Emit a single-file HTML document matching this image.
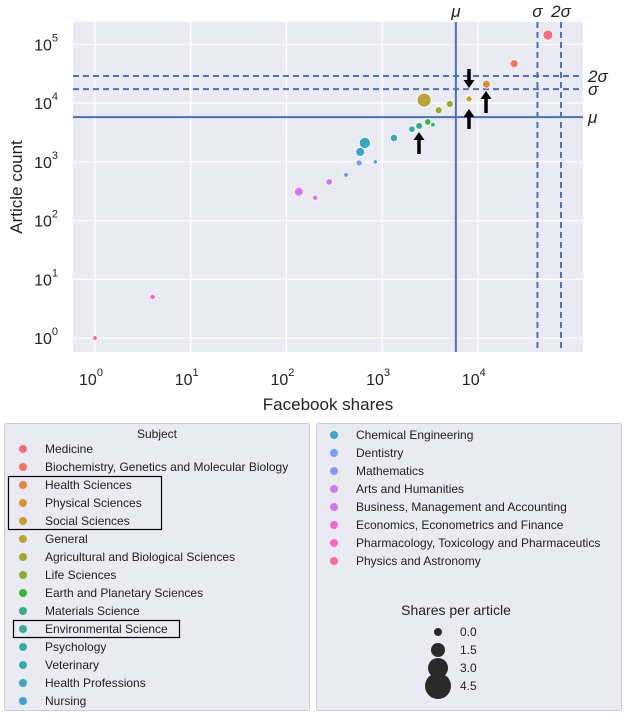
<!DOCTYPE html>
<html><head><meta charset="utf-8"><style>
body{margin:0;background:#fff;font-family:"Liberation Sans",sans-serif;}
svg{display:block}
</style></head><body>
<svg id="chart" width="626" height="716" font-family="Liberation Sans, sans-serif">
<rect x="73" y="22" width="510" height="330" fill="#eaeaf2"/>
<g id="grid"></g><g id="refs"></g><g id="pts"></g><g id="arrows"></g><g id="ticks"></g>
<text x="328" y="410" font-size="17" text-anchor="middle" fill="#222">Facebook shares</text>
<text transform="translate(22,187) rotate(-90)" font-size="17" text-anchor="middle" fill="#222">Article count</text>
<g>
<rect x="4.5" y="423.5" width="305" height="287" fill="#eaeaf2" stroke="#ccc" rx="2"/>
<text x="157" y="438" font-size="12" text-anchor="middle" fill="#222">Subject</text>
<g id="legL"></g>
<rect x="8.5" y="476.5" width="153" height="53" fill="none" stroke="#000" stroke-width="1.2"/>
<rect x="13.5" y="620.5" width="166" height="17" fill="none" stroke="#000" stroke-width="1.2"/>
</g>
<g>
<rect x="316.5" y="423.5" width="305" height="287" fill="#eaeaf2" stroke="#ccc" rx="2"/>
<g id="legR"></g>
</g>
<g>
<text x="456" y="615" font-size="14" text-anchor="middle" fill="#222">Shares per article</text>
<g id="sizeLeg"></g>
</g>
</svg>
<script>
const subjects=["Medicine","Biochemistry, Genetics and Molecular Biology","Health Sciences","Physical Sciences","Social Sciences","General","Agricultural and Biological Sciences","Life Sciences","Earth and Planetary Sciences","Materials Science","Environmental Science","Psychology","Veterinary","Health Professions","Nursing","Chemical Engineering","Dentistry","Mathematics","Arts and Humanities","Business, Management and Accounting","Economics, Econometrics and Finance","Pharmacology, Toxicology and Pharmaceutics","Physics and Astronomy"];
const shares=[54000,24000,12300,8100,8100,2750,3900,5100,3000,3400,2440,2050,1330,660,590,850,575,420,280,135,200,4,1];
const articles=[145000,47000,21000,11800,11800,11300,7600,9700,4800,4300,4100,3600,2550,2100,1480,1000,960,600,455,310,245,5,1];
const perArticle=[2.5,1.7,1.6,1.0,0.9,4.2,1.3,1.3,1.1,0.3,1.2,1.1,1.4,3.0,2.1,0.1,0.9,0.5,1.1,2.1,0.5,0.6,0.3];
const colors=["#f0707f","#ed7560","#e0873e","#d9903a","#c3a03a","#b8a43a","#9fa833","#93ac32","#3bb23e","#37ad82","#39ab93","#3aaa9f","#3ba8ae","#3ca6bc","#3ea3cc","#3ea5c7","#7a9df0","#8a97ef","#c680ee","#d479ec","#ea6dd4","#f06bbf","#f26ba8"];
const xTicks=[0,1,2,3,4], yTicks=[0,1,2,3,4,5];
const refX={mu:5900,s1:42000,s2:74000}, refY={mu:5800,s1:17400,s2:29000};
const NS="http://www.w3.org/2000/svg";
const X0=73,X1=583,Y0=22,Y1=352;
const xs=v=>95+Math.log10(v)*95.7;
const ys=v=>338-Math.log10(v)*58.7;
const rs=v=>2+v*1.2;
function mk(tag,attrs,parent){const e=document.createElementNS(NS,tag);for(const k in attrs)e.setAttribute(k,attrs[k]);parent.appendChild(e);return e;}
const grid=document.getElementById('grid'),ticks=document.getElementById('ticks');
xTicks.forEach(t=>{const x=xs(Math.pow(10,t));
 const l=mk('line',{x1:x,x2:x,y1:Y0,y2:Y1,stroke:'#fff','stroke-width':1.3},grid);
 
 
 const tx=mk('text',{x:x-4,y:385,'font-size':16,fill:'#222','text-anchor':'middle'},ticks);
 tx.innerHTML='10<tspan dy="-9" font-size="11">'+t+'</tspan>';
 
 });
yTicks.forEach(t=>{const y=ys(Math.pow(10,t));
 const l=mk('line',{x1:X0,x2:X1,y1:y,y2:y,stroke:'#fff','stroke-width':1.3},grid);
 
 
 const tx=mk('text',{x:58,y:y+6,'font-size':16,fill:'#222','text-anchor':'end'},ticks);
 tx.innerHTML='10<tspan dy="-9" font-size="11">'+t+'</tspan>';
 
 });
const refs=document.getElementById('refs');
const lab=(txt,x,y,a)=>{const t=mk('text',{x:x,y:y,'font-size':17,'font-style':'italic',fill:'#222','text-anchor':a},refs);t.textContent=txt;};
[['mu',''],['s1','6,4'],['s2','6,4']].forEach(([k,d])=>{
 const x=xs(refX[k]);const l=mk('line',{x1:x,x2:x,y1:Y0,y2:Y1,stroke:'#4c72b0','stroke-width':2,'stroke-dasharray':d},refs);
 
 
 const y=ys(refY[k]);const h=mk('line',{x1:X0,x2:X1,y1:y,y2:y,stroke:'#4c72b0','stroke-width':2,'stroke-dasharray':d},refs);
 
 
 const sym={mu:'μ',s1:'σ',s2:'2σ'}[k];
 lab(sym,x,17,'middle');lab(sym,588,y+6,'start');});
const pts=document.getElementById('pts');
subjects.forEach((s,i)=>{const c=mk('circle',{cx:xs(shares[i]),cy:ys(articles[i]),r:rs(perArticle[i]),fill:colors[i],stroke:'#fff','stroke-width':0.8},pts);
 
 });
const ar=document.getElementById('arrows');
[[469,69,88],[469,129,109],[486,113,91],[419,154,132]].forEach(([x,a,b])=>{
 const dir=b>a?1:-1;const g=mk('g',{},ar);
 
 
 mk('line',{x1:x,x2:x,y1:a,y2:b-dir*6,stroke:'#000','stroke-width':3.5},g);
 mk('polygon',{points:`${x-5.5},${b-dir*8} ${x+5.5},${b-dir*8} ${x},${b}`,fill:'#000'},g);});
const legL=document.getElementById('legL'),legR=document.getElementById('legR');
subjects.forEach((s,i)=>{const left=i<15;const p=left?legL:legR;const y=left?449+i*18:435+(i-15)*18;const dx=left?23:334;
 const g=mk('g',{},p);
 
 
 mk('circle',{cx:dx,cy:y,r:4,fill:colors[i]},g);
 const t=mk('text',{x:dx+22,y:y+4,'font-size':12,fill:'#222'},g);t.textContent=s;});
const sl=document.getElementById('sizeLeg');
[['0.0',4,632],['1.5',7,650],['3.0',10,668],['4.5',13,686]].forEach(([l,r,y])=>{
 const g=mk('g',{},sl);
 
 
 mk('circle',{cx:438,cy:y,r:r,fill:'#2a2a2a'},g);
 const t=mk('text',{x:460,y:y+4,'font-size':12,fill:'#222'},g);t.textContent=l;});
</script>
</body></html>
